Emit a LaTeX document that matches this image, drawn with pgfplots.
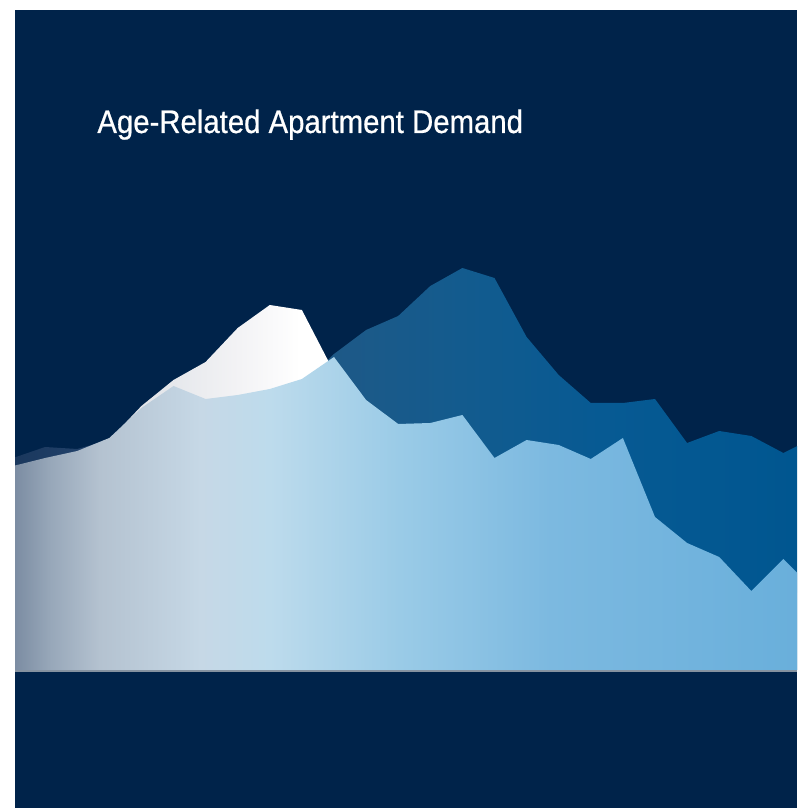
\documentclass[border=0pt]{standalone}
\usepackage{pgfplots}
\usepackage{pgfplotstable}
\pgfplotsset{compat=1.18}
\usepackage{fontspec}
\newfontfamily\titlefont[FakeStretch=0.9,FakeBold=0.6]{Liberation Sans}

\definecolor{navy}{HTML}{00234A}
\definecolor{basegrey}{HTML}{8592A0}

% front series colours, left to right
\definecolor{fr0}{HTML}{7A8BA1}
\definecolor{fr1}{HTML}{97A7B9}
\definecolor{fr2}{HTML}{B4C2D0}
\definecolor{fr3}{HTML}{C6D8E6}
\definecolor{fr4}{HTML}{BDDBEC}
\definecolor{fr5}{HTML}{9ACBE7}
\definecolor{fr6}{HTML}{7CB9E0}
\definecolor{fr7}{HTML}{69AFDB}
% middle series
\definecolor{wh0}{HTML}{D0D5DC}
\definecolor{wh1}{HTML}{E6E8EC}
\definecolor{wh2}{HTML}{F3F3F5}
\definecolor{wh3}{HTML}{FFFFFF}
% back series
\definecolor{bk0}{HTML}{1A375C}
\definecolor{bk1}{HTML}{21416A}
\definecolor{bk2}{HTML}{1E5987}
\definecolor{bk3}{HTML}{135B8E}
\definecolor{bk4}{HTML}{075A93}
\definecolor{bk5}{HTML}{005690}

\pgfdeclarehorizontalshading{frontshade}{100bp}{%
  color(0bp)=(fr0); color(25bp)=(fr0); color(27.3bp)=(fr1);
  color(30.4bp)=(fr2); color(36.7bp)=(fr3); color(41bp)=(fr4);
  color(49.1bp)=(fr5); color(58.5bp)=(fr6); color(74bp)=(fr7);
  color(100bp)=(fr7)}
\pgfdeclarehorizontalshading{whiteshade}{100bp}{%
  color(0bp)=(wh0); color(25bp)=(wh0); color(35bp)=(wh1);
  color(39.1bp)=(wh2); color(42.9bp)=(wh3); color(100bp)=(wh3)}
\pgfdeclarehorizontalshading{backshade}{100bp}{%
  color(0bp)=(bk0); color(25bp)=(bk0); color(29.2bp)=(bk1);
  color(44.9bp)=(bk2); color(52.9bp)=(bk3); color(61.6bp)=(bk4);
  color(74bp)=(bk5); color(100bp)=(bk5)}

\pgfplotstableread{
k  back white front
0  212  194  204
1  223  202  212
2  221  209  219
3  230  230  232
4  252  264  262
5  274  290  284
6  261  308  271
7  265  342  275
8  271  365  281
9  285  360  291
10 316  298  313
11 340  250  270
12 354  226  246
13 384  227  247
14 402  235  255
15 392  192  212
16 333  210  230
17 295  205  225
18 267  191  211
19 267  212  232
20 271  133  153
21 227  107  127
22 239  93   113
23 234  59   79
24 217  91   111
25 233  59   79
}\demand

\begin{document}
\begin{tikzpicture}
  % page and panel
  \fill[white] (0pt,0pt) rectangle (398.5pt,404pt);
  \fill[navy] (7.5pt,0pt) rectangle (398.5pt,399pt);

  \begin{axis}[
    at={(7.5pt,69pt)}, anchor=south west,
    scale only axis, width=391pt, height=330pt,
    xmin=0.0623, xmax=24.424, ymin=0, ymax=660,
    hide axis, clip=true,
  ]
    \addplot[draw=none, shading=backshade] table[x=k, y=back] {\demand} \closedcycle;
    \addplot[draw=none, shading=whiteshade] table[x=k, y=white] {\demand} \closedcycle;
    \addplot[draw=none, shading=frontshade] table[x=k, y=front] {\demand} \closedcycle;
  \end{axis}

  \draw[draw=basegrey, line width=1pt] (7.5pt,68.5pt) -- (398.5pt,68.5pt);

  \node[anchor=base west, inner sep=0pt, text=white,
        font=\titlefont\fontsize{16.3pt}{19pt}\selectfont]
    at (48.5pt,337.5pt) {Age-Related Apartment Demand};
\end{tikzpicture}
\end{document}
